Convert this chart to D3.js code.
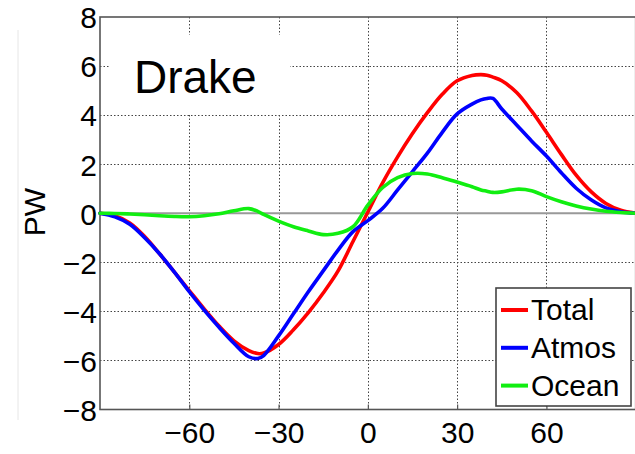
<!DOCTYPE html>
<html>
<head>
<meta charset="utf-8">
<script src="https://cdn.jsdelivr.net/npm/d3@7"></script>
<style>
  html, body { margin: 0; padding: 0; background: #fff; }
  svg { display: block; }
  text { font-family: "Liberation Sans", Arial, sans-serif; fill: #000; }
</style>
</head>
<body>
<svg id="chart" width="635" height="454"></svg>
<script>
// ---- Data ----
const latitudes = [-90, -85, -80, -75, -70, -65, -60, -55, -50, -45, -40, -37, -35, -30, -25, -20, -15, -10, -5, 0, 5, 10, 15, 20, 25, 30, 35, 38, 40, 42, 45, 50, 55, 60, 65, 70, 75, 80, 85, 90];
const totalPW = [0, -0.1, -0.4, -0.95, -1.65, -2.4, -3.15, -3.9, -4.6, -5.2, -5.6, -5.72, -5.7, -5.35, -4.75, -4.05, -3.25, -2.35, -1.15, 0.05, 1.25, 2.3, 3.25, 4.1, 4.85, 5.4, 5.62, 5.65, 5.63, 5.55, 5.4, 4.92, 4.17, 3.3, 2.4, 1.55, 0.88, 0.4, 0.12, 0];
const atmosPW = [0, -0.15, -0.45, -1.0, -1.65, -2.4, -3.2, -3.95, -4.65, -5.3, -5.85, -5.92, -5.8, -5.0, -4.1, -3.2, -2.35, -1.5, -0.75, -0.3, 0.2, 0.95, 1.7, 2.45, 3.3, 4.05, 4.45, 4.62, 4.68, 4.68, 4.25, 3.6, 2.95, 2.33, 1.65, 1.02, 0.55, 0.22, 0.06, 0];
const oceanPW = [0, -0.01, -0.03, -0.06, -0.1, -0.13, -0.14, -0.1, -0.02, 0.1, 0.19, 0.08, -0.05, -0.32, -0.55, -0.72, -0.87, -0.82, -0.55, 0.33, 1.05, 1.45, 1.62, 1.6, 1.45, 1.27, 1.08, 0.95, 0.9, 0.85, 0.87, 0.98, 0.92, 0.68, 0.47, 0.3, 0.17, 0.08, 0.03, 0];
const seriesNames = ["Total", "Atmos", "Ocean"];
const seriesColors = ["#ff0000", "#0000ff", "#11ee11"];
const xTicks = [-90, -60, -30, 0, 30, 60, 90];
const xTickLabels = [-60, -30, 0, 30, 60];
const yTicks = [-8, -6, -4, -2, 0, 2, 4, 6, 8];
const titleText = "Drake";
const yLabel = "PW";

// ---- Layout ----
const svg = d3.select("#chart");
const plot = { left: 100, top: 17, right: 635.7, bottom: 409.5 };
const x = d3.scaleLinear().domain([-90, 90]).range([plot.left, plot.right]);
const y = d3.scaleLinear().domain([-8, 8]).range([plot.bottom, plot.top]);

// faint page edge at the left
svg.append("line").attr("x1", 18).attr("x2", 18).attr("y1", 30).attr("y2", 420)
  .attr("stroke", "#e6e6e6").attr("stroke-width", 1);

// grid
const grid = svg.append("g").attr("stroke", "#444").attr("stroke-width", 1)
  .attr("stroke-dasharray", "1.5,2");
grid.selectAll("line.gx").data(xTicks.filter(d => d > -90 && d < 90)).join("line")
  .attr("x1", d => Math.round(x(d)) + 0.5).attr("x2", d => Math.round(x(d)) + 0.5)
  .attr("y1", plot.top).attr("y2", plot.bottom);
grid.selectAll("line.gy").data(yTicks.filter(d => d > -8 && d < 8 && d !== 0)).join("line")
  .attr("x1", plot.left).attr("x2", plot.right)
  .attr("y1", d => Math.round(y(d)) + 0.5).attr("y2", d => Math.round(y(d)) + 0.5);

// zero line
svg.append("line").attr("x1", plot.left).attr("x2", plot.right)
  .attr("y1", y(0)).attr("y2", y(0)).attr("stroke", "#999").attr("stroke-width", 2);

// Drake title box
svg.append("rect").attr("x", 110).attr("y", 35).attr("width", 180).attr("height", 80).attr("fill", "#fff");
svg.append("text").attr("x", 134).attr("y", 93).attr("font-size", 46).text(titleText);

// axes via d3
const xAxis = d3.axisBottom(x).tickValues(xTickLabels).tickSize(-5).tickPadding(14)
  .tickFormat(d3.format("d"));
const gx = svg.append("g").attr("transform", `translate(0,${plot.bottom})`).call(xAxis);
gx.select(".domain").remove();
gx.selectAll(".tick line").attr("stroke", "#555").attr("stroke-width", 1.2);
gx.selectAll(".tick text").attr("font-size", 30).attr("font-family", "Liberation Sans, Arial, sans-serif")
  .attr("fill", "#000").attr("dy", null).attr("y", 33);

const yAxis = d3.axisLeft(y).tickValues(yTicks).tickSize(0).tickPadding(3)
  .tickFormat(d3.format("d"));
const gy = svg.append("g").attr("transform", `translate(${plot.left},0)`).call(yAxis);
gy.select(".domain").remove();
gy.selectAll(".tick text").attr("font-size", 30).attr("font-family", "Liberation Sans, Arial, sans-serif")
  .attr("fill", "#000").attr("dy", "0.36em");

// plot frame (left, top, bottom, right)
svg.append("rect").attr("x", plot.left).attr("y", plot.top)
  .attr("width", plot.right - plot.left).attr("height", plot.bottom - plot.top)
  .attr("fill", "none").attr("stroke", "#555").attr("stroke-width", 1.6);

// y label
svg.append("text").attr("transform", `translate(45,212) rotate(-90)`)
  .attr("text-anchor", "middle").attr("font-size", 30).text(yLabel);

// lines
const seriesData = [totalPW, atmosPW, oceanPW];
const line = d3.line().x((d, i) => x(latitudes[i])).y(d => y(d)).curve(d3.curveCatmullRom.alpha(0.5));
svg.append("g").selectAll("path").data(seriesData).join("path")
  .attr("d", d => line(d)).attr("fill", "none")
  .attr("stroke", (d, i) => seriesColors[i]).attr("stroke-width", 3.6)
  .attr("stroke-linejoin", "round").attr("stroke-linecap", "round");

// legend
const lg = svg.append("g");
lg.append("rect").attr("x", 496).attr("y", 288).attr("width", 135).attr("height", 118)
  .attr("fill", "#fff").attr("stroke", "#444").attr("stroke-width", 1.6);
const entries = lg.selectAll("g.e").data(seriesNames).join("g")
  .attr("transform", (d, i) => `translate(0,${310 + i * 37.8})`);
entries.append("line").attr("x1", 501).attr("x2", 528).attr("y1", 0).attr("y2", 0)
  .attr("stroke", (d, i) => seriesColors[i]).attr("stroke-width", 4);
entries.append("text").attr("x", 531).attr("y", 10).attr("font-size", 30).text(d => d);
</script>
</body>
</html>
